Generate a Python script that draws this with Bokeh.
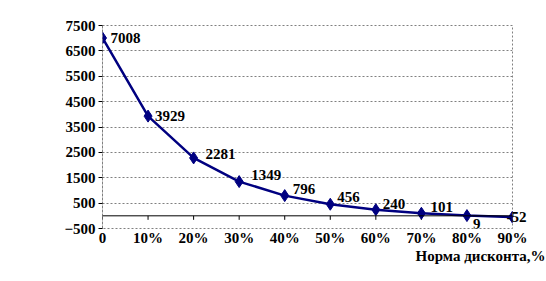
from bokeh.plotting import figure
from bokeh.models import Range1d, FixedTicker, ColumnDataSource, Label, Span, Title, LinearAxis
from bokeh.embed import file_html
from bokeh.resources import INLINE

rates = ["0", "10%", "20%", "30%", "40%", "50%", "60%", "70%", "80%", "90%"]
npv = [7008, 3929, 2281, 1349, 796, 456, 240, 101, 9, -52]
y_ticks = [-500, 500, 1500, 2500, 3500, 4500, 5500, 6500, 7500]
x_title = "Норма дисконта,%"

# label offsets (pixels) – styling only
lab_dx = [8, 7, 12, 12, 8, 7, 7, 9, 6, -8]
lab_dy = [0, 0, 4, 7, 7, 7, 6, 6, -8, -1]

FONT = "'Liberation Serif', 'Times New Roman', serif"
FS = "15px"
NAVY = "#000080"
GRID = "#808080"

xs = list(range(len(rates)))

p = figure(width=546, height=281, output_backend="svg", toolbar_location=None,
           x_range=Range1d(0, len(rates) - 1), y_range=Range1d(y_ticks[0], y_ticks[-1]),
           min_border_left=102, min_border_right=34, min_border_top=25, min_border_bottom=53)
p.background_fill_color = "white"
p.border_fill_color = "white"
p.outline_line_color = GRID
p.outline_line_dash = "2 2"

p.xgrid.grid_line_color = None
p.ygrid.ticker = FixedTicker(ticks=y_ticks)
p.ygrid.grid_line_color = GRID
p.ygrid.grid_line_dash = "2 2"

ya = p.yaxis[0]
ya.ticker = FixedTicker(ticks=y_ticks)
ya.axis_line_color = GRID
ya.axis_line_dash = "2 2"
ya.major_tick_out = 4
ya.major_tick_in = 0
ya.minor_tick_line_color = None
ya.major_label_text_font = FONT
ya.major_label_text_font_style = "bold"
ya.major_label_text_font_size = FS
ya.major_label_text_color = "black"
ya.major_label_standoff = 3

xa = p.xaxis[0]
xa.ticker = FixedTicker(ticks=xs)
xa.major_label_overrides = {i: r for i, r in enumerate(rates)}
xa.axis_line_color = None
xa.major_tick_line_color = None
xa.major_tick_out = 0
xa.major_tick_in = 0
xa.minor_tick_line_color = None
xa.minor_tick_out = 0
xa.major_label_text_font = FONT
xa.major_label_text_font_style = "bold"
xa.major_label_text_font_size = FS
xa.major_label_text_color = "black"
xa.major_label_standoff = 1

# horizontal axis line at zero with downward ticks
p.add_layout(Span(location=0, dimension="width", line_color="black", line_width=1))
tick_len = (y_ticks[-1] - y_ticks[0]) / 203 * 4
p.segment(x0=xs, x1=xs, y0=[0] * len(xs), y1=[-tick_len] * len(xs), line_color="black", line_width=1)

src = ColumnDataSource(dict(x=xs, y=npv))
p.line("x", "y", source=src, line_color=NAVY, line_width=2.5)
p.scatter("x", "y", source=src, marker="diamond", size=12, fill_color=NAVY, line_color=NAVY)

for i in xs[:-1]:
    p.add_layout(Label(x=xs[i], y=npv[i], text=str(npv[i]), x_offset=lab_dx[i], y_offset=lab_dy[i],
                       text_font=FONT, text_font_style="bold", text_font_size=FS,
                       text_baseline="middle", text_align="left", text_color="black"))

# last data label sits past the frame edge: show it through a right-hand axis label
ra = LinearAxis(ticker=FixedTicker(ticks=[npv[-1]]),
                major_label_overrides={npv[-1]: str(npv[-1])},
                axis_line_color=None, major_tick_line_color=None, minor_tick_line_color=None,
                major_tick_out=0, major_tick_in=0, minor_tick_out=0, major_label_standoff=-6,
                major_label_text_font=FONT, major_label_text_font_style="bold",
                major_label_text_font_size=FS, major_label_text_color="black")
p.add_layout(ra, "right")

p.add_layout(Title(text=x_title, align="right", offset=-33, standoff=-6,
                   text_font=FONT, text_font_style="bold", text_font_size=FS,
                   text_color="black"), "below")

open("out.html", "w").write(file_html(p, INLINE))
